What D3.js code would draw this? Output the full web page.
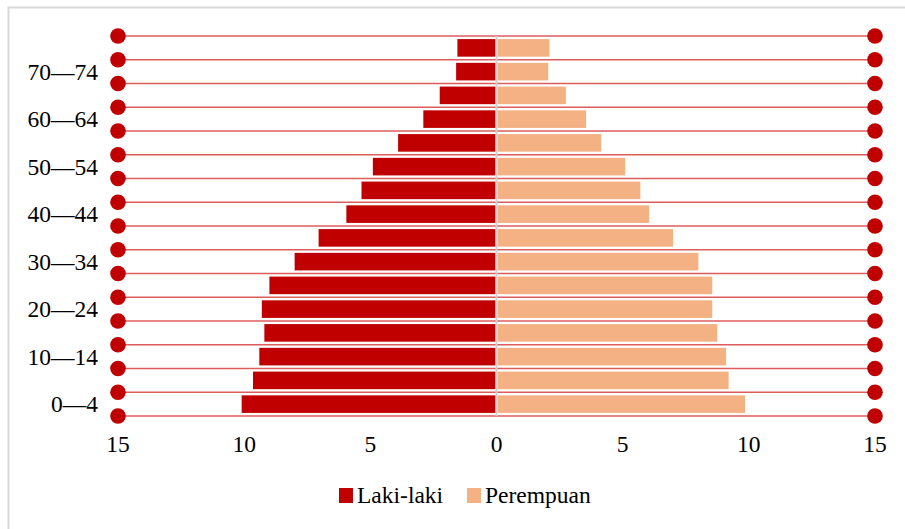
<!DOCTYPE html>
<html>
<head>
<meta charset="utf-8">
<script src="https://cdn.jsdelivr.net/npm/d3@7/dist/d3.min.js"></script>
<style>
  body { margin: 0; background: #fff; }
</style>
</head>
<body>
<div id="grafico"></div>
<script>
// kelompok umur, dari bawah ke atas
var kelompok = ["0—4", "5—9", "10—14", "15—19", "20—24", "25—29", "30—34", "35—39",
                "40—44", "45—49", "50—54", "55—59", "60—64", "65—69", "70—74", "75+"];
var lakiLaki = [10.1, 9.65, 9.4, 9.2, 9.3, 9.0, 8.0, 7.05, 5.95, 5.35, 4.9, 3.9, 2.9, 2.25, 1.6, 1.55];
var perempuan = [9.85, 9.2, 9.1, 8.75, 8.55, 8.55, 8.0, 7.0, 6.05, 5.7, 5.1, 4.15, 3.55, 2.75, 2.05, 2.1];
var ticksX = [-15, -10, -5, 0, 5, 10, 15];
var seri = ["Laki-laki", "Perempuan"];

var width = 905, height = 529;
var huruf = "Liberation Serif";
var warna = d3.scaleOrdinal().domain(seri).range(["#c00000", "#f4b183"]);

var svg = d3.select("#grafico").append("svg")
  .attr("width", width)
  .attr("height", height);

// bingkai
svg.append("rect")
  .attr("x", 8.5).attr("y", 7.5)
  .attr("width", 1000).attr("height", 600)
  .attr("fill", "none")
  .attr("stroke", "#d9d9d9")
  .attr("stroke-width", 2);

var x = d3.scaleLinear().domain([-15, 15]).range([118, 875]);
var y = d3.scaleBand()
  .domain(kelompok.slice().reverse())
  .range([36, 416])
  .paddingInner(0.26)
  .paddingOuter(0.13);

// garis batas antar kelompok
var garisY = d3.range(kelompok.length + 1).map(function(i){ return 36 + i * (380 / kelompok.length); });

svg.selectAll(".grid")
  .data(garisY)
  .enter()
  .append("line")
  .attr("class", "grid")
  .attr("x1", x(-15)).attr("x2", x(15))
  .attr("y1", function(d){ return d; })
  .attr("y2", function(d){ return d; })
  .attr("stroke", "#de5c5c")
  .attr("stroke-width", 1.3);

// batang
var gb = svg.append("g");
gb.selectAll(".laki")
  .data(kelompok)
  .enter()
  .append("rect")
  .attr("class", "laki")
  .attr("x", function(d, i){ return x(-lakiLaki[i]); })
  .attr("y", function(d){ return y(d); })
  .attr("width", function(d, i){ return x(0) - x(-lakiLaki[i]) - 1; })
  .attr("height", y.bandwidth())
  .attr("fill", warna("Laki-laki"));

gb.selectAll(".perempuan")
  .data(kelompok)
  .enter()
  .append("rect")
  .attr("class", "perempuan")
  .attr("x", x(0) + 1)
  .attr("y", function(d){ return y(d); })
  .attr("width", function(d, i){ return x(perempuan[i]) - x(0) - 1; })
  .attr("height", y.bandwidth())
  .attr("fill", warna("Perempuan"));

// garis nol
svg.append("line")
  .attr("x1", x(0)).attr("x2", x(0))
  .attr("y1", 36).attr("y2", 416)
  .attr("stroke", "#d0d0d0")
  .attr("stroke-width", 2);

// titik di ujung garis
[-15, 15].forEach(function(v){
  svg.selectAll(".titik" + (v > 0 ? "k" : "l"))
    .data(garisY)
    .enter()
    .append("circle")
    .attr("cx", x(v))
    .attr("cy", function(d){ return d; })
    .attr("r", 7.8)
    .attr("fill", "#c00000");
});

// label sumbu y
svg.selectAll(".labelY")
  .data(kelompok.filter(function(d, i){ return i % 2 == 0; }))
  .enter()
  .append("text")
  .attr("x", 98)
  .attr("y", function(d){ return y(d) + y.bandwidth() / 2; })
  .attr("dy", "0.34em")
  .attr("text-anchor", "end")
  .attr("font-family", huruf)
  .attr("font-size", 23.5)
  .text(function(d){ return d; });

// label sumbu x
svg.selectAll(".tickX")
  .data(ticksX)
  .enter()
  .append("text")
  .attr("x", function(d){ return x(d); })
  .attr("y", 452)
  .attr("text-anchor", "middle")
  .attr("font-family", huruf)
  .attr("font-size", 23.5)
  .text(function(d){ return Math.abs(d); });

// legenda
var legX = [339, 467];
var leg = svg.selectAll(".leg")
  .data(seri)
  .enter()
  .append("g")
  .attr("transform", function(d, i){ return "translate(" + legX[i] + ",488)"; });
leg.append("rect")
  .attr("width", 14).attr("height", 15)
  .attr("fill", function(d){ return warna(d); });
leg.append("text")
  .attr("x", 18).attr("y", 15)
  .attr("font-family", huruf)
  .attr("font-size", 23.5)
  .text(function(d){ return d; });
</script>
</body>
</html>
